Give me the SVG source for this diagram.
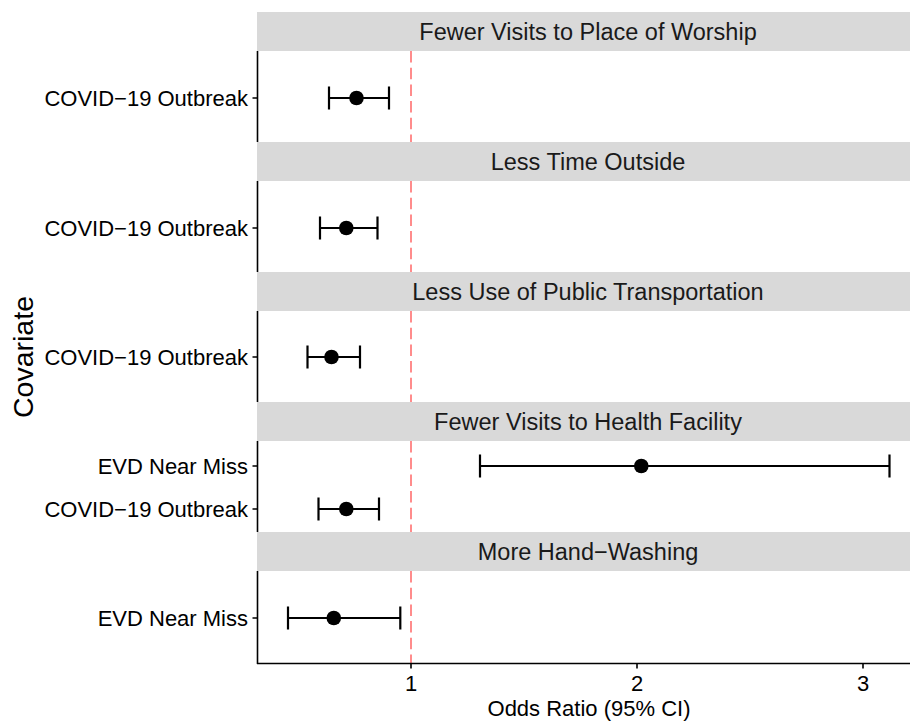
<svg xmlns="http://www.w3.org/2000/svg" width="910" height="721" viewBox="0 0 910 721">
<style>
text{font-family:"Liberation Sans",Arial,sans-serif;fill:#000}
.strip{fill:#D9D9D9}
.stext{font-size:23.5px;fill:#1A1A1A;text-anchor:middle}
.ylab{font-size:22px;text-anchor:end}
.xlab{font-size:22px;text-anchor:middle}
.axis{stroke:#000;stroke-width:1.6;fill:none}
.ref{stroke:#FF8C8C;stroke-width:2;stroke-dasharray:11.5 5.2;fill:none}
.bar{stroke:#000;stroke-width:2.2;fill:none}
.pt{fill:#000}
</style>
<rect width="910" height="721" fill="#fff"/>
<g id="reference-lines">
<line class="ref" x1="411" y1="51" x2="411" y2="142"/>
<line class="ref" x1="411" y1="181" x2="411" y2="272"/>
<line class="ref" x1="411" y1="311" x2="411" y2="402"/>
<line class="ref" x1="411" y1="441" x2="411" y2="532"/>
<line class="ref" x1="411" y1="571" x2="411" y2="663"/>
</g>
<g id="strips">
<g id="strip-1"><rect class="strip" x="257" y="12" width="662" height="39"/><text class="stext" x="588" y="40">Fewer Visits to Place of Worship</text></g>
<g id="strip-2"><rect class="strip" x="257" y="142" width="662" height="39"/><text class="stext" x="588" y="170">Less Time Outside</text></g>
<g id="strip-3"><rect class="strip" x="257" y="272" width="662" height="39"/><text class="stext" x="588" y="300">Less Use of Public Transportation</text></g>
<g id="strip-4"><rect class="strip" x="257" y="402" width="662" height="39"/><text class="stext" x="588" y="430">Fewer Visits to Health Facility</text></g>
<g id="strip-5"><rect class="strip" x="257" y="532" width="662" height="39"/><text class="stext" x="588" y="560">More Hand−Washing</text></g>
</g>
<g id="axes">
<line class="axis" x1="257.5" y1="51" x2="257.5" y2="142"/>
<line class="axis" x1="257.5" y1="181" x2="257.5" y2="272"/>
<line class="axis" x1="257.5" y1="311" x2="257.5" y2="402"/>
<line class="axis" x1="257.5" y1="441" x2="257.5" y2="532"/>
<line class="axis" x1="257.5" y1="571" x2="257.5" y2="664"/>
<line class="axis" x1="257" y1="663.5" x2="910" y2="663.5"/>
<path class="axis" d="M252.5 98H257.5M252.5 228H257.5M252.5 357H257.5M252.5 466H257.5M252.5 509H257.5M252.5 618H257.5"/>
<path class="axis" d="M411 663.5V668.5M637 663.5V668.5M863 663.5V668.5"/>
<text class="ylab" x="248" y="106">COVID−19 Outbreak</text>
<text class="ylab" x="248" y="236">COVID−19 Outbreak</text>
<text class="ylab" x="248" y="365">COVID−19 Outbreak</text>
<text class="ylab" x="248" y="474">EVD Near Miss</text>
<text class="ylab" x="248" y="517">COVID−19 Outbreak</text>
<text class="ylab" x="248" y="626">EVD Near Miss</text>
<text class="xlab" x="411" y="691">1</text>
<text class="xlab" x="637" y="691">2</text>
<text class="xlab" x="863" y="691">3</text>
<text class="xlab" x="589" y="716">Odds Ratio (95% CI)</text>
<text x="33" y="357" font-size="28.5" text-anchor="middle" transform="rotate(-90 33 357)">Covariate</text>
</g>
<g id="estimates">
<g id="est-worship"><path class="bar" d="M329 98H389M329 86.5V109.5M389 86.5V109.5"/><circle class="pt" cx="356.5" cy="98" r="7.3"/></g>
<g id="est-outside"><path class="bar" d="M320 228H377.5M320 216.5V239.5M377.5 216.5V239.5"/><circle class="pt" cx="346.3" cy="228" r="7.3"/></g>
<g id="est-transport"><path class="bar" d="M307.5 357H360M307.5 345.5V368.5M360 345.5V368.5"/><circle class="pt" cx="331.5" cy="357" r="7.3"/></g>
<g id="est-health-evd"><path class="bar" d="M480 466H889.5M480 454.5V477.5M889.5 454.5V477.5"/><circle class="pt" cx="641.3" cy="466" r="7.3"/></g>
<g id="est-health-covid"><path class="bar" d="M318.5 509H379M318.5 497.5V520.5M379 497.5V520.5"/><circle class="pt" cx="346.3" cy="509" r="7.3"/></g>
<g id="est-hand"><path class="bar" d="M288 618H400.3M288 606.5V629.5M400.3 606.5V629.5"/><circle class="pt" cx="333.8" cy="618" r="7.3"/></g>
</g>
</svg>
